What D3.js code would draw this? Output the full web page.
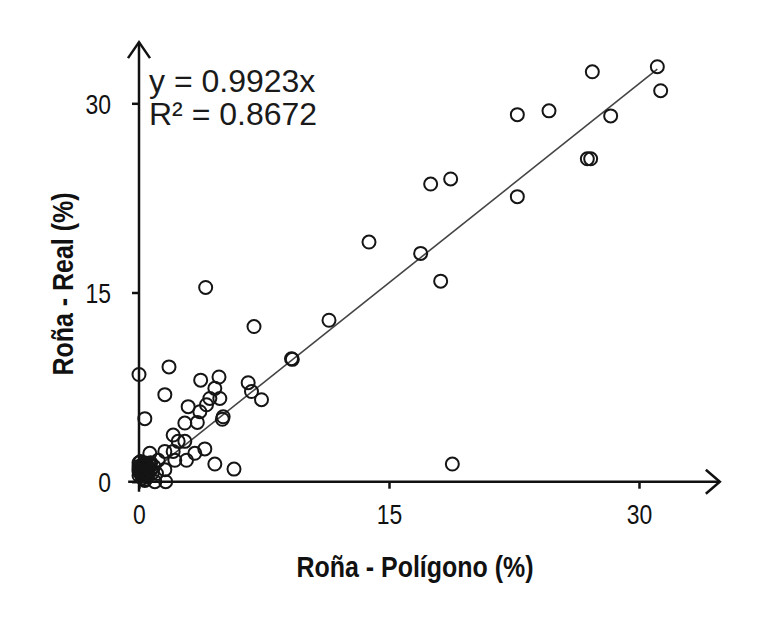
<!DOCTYPE html>
<html>
<head>
<meta charset="utf-8">
<script src="https://cdn.jsdelivr.net/npm/d3@7"></script>
<style>
  body { margin: 0; background: #fff; }
  .tick text { font-family: "Liberation Sans", Arial, sans-serif; font-size: 27px; fill: #111; }
  .title { font-family: "Liberation Sans", Arial, sans-serif; font-weight: bold; font-size: 29px; fill: #111; }
  .eq { font-family: "Liberation Sans", Arial, sans-serif; font-size: 32px; fill: #1a1a1a; }
</style>
</head>
<body>
<script>
const WIDTH = 781;
const HEIGHT = 639;

// Roña - Polígono (%) vs Roña - Real (%)
const polygon = [
  17.5, 18.7, 22.7, 24.6, 27.2, 31.1, 31.3, 28.3, 26.9, 27.1,
  22.7, 16.9, 13.8, 18.1, 18.8, 11.4, 6.9, 4.0, 9.2, 9.15,
  0.0, 1.8, 3.7, 4.8, 1.55, 6.55, 6.75, 7.35, 4.55, 4.85,
  4.25, 4.05, 2.95, 3.65, 5.05, 5.0, 3.5, 2.75, 0.35, 2.05,
  2.35, 2.75, 0.65, 1.55, 2.05, 2.15, 2.85, 3.35, 3.95, 4.55,
  5.7, 1.15, 1.55, 1.6, 0.95, 0.35, 1.05,
  0.0, 0.0, 0.0, 0.0, 0.0, 0.1, 0.1, 0.2, 0.2, 0.3,
  0.3, 0.4, 0.5, 0.6, 0.8, 0.7, 0.2, 0.5, 0.1, 0.4,
  0.15, 0.25, 0.35, 0.45, 0.55, 0.65, 0.05, 0.3, 0.5, 0.7,
  0.9, 0.25, 0.6
];
const real = [
  23.6, 24.0, 29.1, 29.4, 32.5, 32.9, 31.0, 29.0, 25.6, 25.6,
  22.6, 18.1, 19.0, 15.9, 1.4, 12.8, 12.3, 15.4, 9.7, 9.75,
  8.5, 9.1, 8.05, 8.3, 6.9, 7.85, 7.15, 6.5, 7.4, 6.6,
  6.6, 6.1, 5.95, 5.55, 5.15, 4.95, 4.7, 4.65, 5.0, 3.7,
  3.2, 3.2, 2.25, 2.4, 2.4, 1.7, 1.7, 2.25, 2.6, 1.4,
  1.0, 1.7, 0.95, 0.0, 0.0, 0.1, 0.65,
  0.5, 0.8, 1.0, 1.2, 1.5, 0.7, 1.1, 0.9, 1.3, 0.6,
  1.0, 1.4, 0.8, 1.1, 0.7, 1.5, 0.3, 0.4, 1.6, 0.2,
  0.6, 1.2, 0.8, 1.1, 0.6, 1.3, 0.9, 1.5, 1.2, 0.9,
  1.2, 0.5, 1.4
];

// fitted line as drawn
const fitX = [0, 31.1];
const fitY = [0, 32.7];

const xTicks = [0, 15, 30];
const yTicks = [0, 15, 30];

const xScale = d3.scaleLinear().domain([0, 30]).range([139, 639]);
const yScale = d3.scaleLinear().domain([0, 30]).range([481.7, 103.3]);

const svg = d3.select('body').append('svg')
  .attr('width', WIDTH)
  .attr('height', HEIGHT);

// squeeze text horizontally to mimic a condensed face
function condense(sel, k) {
  sel.each(function () {
    const len = this.getComputedTextLength();
    d3.select(this).attr('textLength', len * k).attr('lengthAdjust', 'spacingAndGlyphs');
  });
}

// axes (ticks + labels)
svg.append('g')
  .attr('transform', `translate(0,${yScale(0)})`)
  .call(d3.axisBottom(xScale).tickValues(xTicks).tickSize(7).tickPadding(16))
  .call(g => g.select('.domain').remove())
  .call(g => g.selectAll('.tick line').attr('stroke', '#111').attr('stroke-width', 2.5))
  .call(g => condense(g.selectAll('.tick text'), 0.85));

svg.append('g')
  .attr('transform', `translate(${xScale(0)},0)`)
  .call(d3.axisLeft(yScale).tickValues(yTicks).tickSize(7).tickPadding(21))
  .call(g => g.select('.domain').remove())
  .call(g => g.selectAll('.tick line').attr('stroke', '#111').attr('stroke-width', 2.5))
  .call(g => g.selectAll('.tick text').attr('dy', '0.36em'))
  .call(g => condense(g.selectAll('.tick text'), 0.85));

// axis lines with open arrow heads
const axisStyle = sel => sel.attr('fill', 'none').attr('stroke', '#111')
  .attr('stroke-width', 2.5).attr('stroke-linejoin', 'miter');

const x0 = xScale(0), y0 = yScale(0);
const xEnd = xScale(34.85), yEnd = yScale(34.85);

svg.append('path')
  .attr('d', `M${xScale(-0.65)},${y0}H${xEnd}`)
  .call(axisStyle);
svg.append('path')
  .attr('d', `M${xEnd - 14},${y0 - 12}L${xEnd},${y0}L${xEnd - 14},${y0 + 12}`)
  .call(axisStyle);

svg.append('path')
  .attr('d', `M${x0},${yScale(-0.8)}V${yEnd}`)
  .call(axisStyle);
svg.append('path')
  .attr('d', `M${x0 - 11},${yEnd + 16}L${x0},${yEnd}L${x0 + 11},${yEnd + 16}`)
  .call(axisStyle);

// regression line
svg.append('line')
  .attr('x1', xScale(fitX[0])).attr('y1', yScale(fitY[0]))
  .attr('x2', xScale(fitX[1])).attr('y2', yScale(fitY[1]))
  .attr('stroke', '#444')
  .attr('stroke-width', 1.6);

// points
svg.append('g')
  .selectAll('circle')
  .data(polygon.map((p, i) => ({ x: p, y: real[i] })))
  .enter()
  .append('circle')
  .attr('cx', d => xScale(d.x))
  .attr('cy', d => yScale(d.y))
  .attr('r', 6.5)
  .attr('fill', 'none')
  .attr('stroke', '#151515')
  .attr('stroke-width', 2);

// equation
svg.append('text').attr('class', 'eq').attr('x', 149).attr('y', 92).text('y = 0.9923x');
svg.append('text').attr('class', 'eq').attr('x', 149).attr('y', 125).text('R² = 0.8672');

// axis titles
svg.append('text')
  .attr('class', 'title')
  .attr('x', 415)
  .attr('y', 577)
  .attr('text-anchor', 'middle')
  .text('Roña - Polígono (%)')
  .call(sel => condense(sel, 0.86));

svg.append('text')
  .attr('class', 'title')
  .attr('transform', 'translate(73,284) rotate(-90)')
  .attr('text-anchor', 'middle')
  .text('Roña - Real (%)')
  .call(sel => condense(sel, 0.86));
</script>
</body>
</html>
